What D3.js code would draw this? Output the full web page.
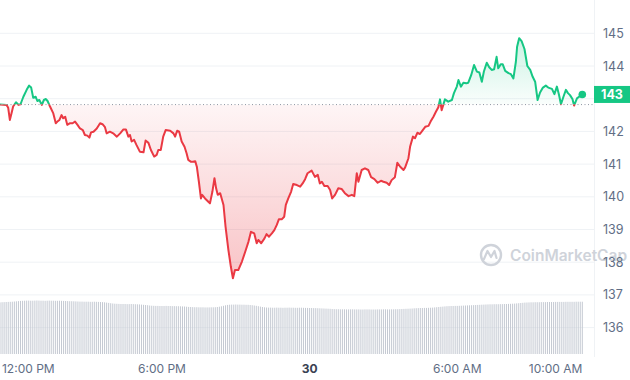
<!DOCTYPE html>
<html><head><meta charset="utf-8">
<script src="https://cdn.jsdelivr.net/npm/d3@7"></script>
<style>body{margin:0;background:#fff}svg{display:block;font-family:Inter,"Noto Sans",sans-serif}</style>
</head><body><svg id="c" width="630" height="380"></svg>
<script>
// ---- data ----
const startClock = [11, 25];           // first sample 11:25 AM on the 29th
const openPrice = 142.82;               // dotted reference line
const lastLabel = "143";
const minutes = [0,16,20,24,29,32,39,45,50,57,65,71,76,81,87,91,96,102,107,112,116,122,130,136,140,145,150,154,159,164,171,177,183,189,195,202,207,213,218,222,228,236,244,250,256,260,268,276,285,293,301,307,313,317,321,327,333,341,350,355,362,368,376,382,386,392,398,404,415,423,427,432,437,443,450,455,459,466,471,476,480,485,490,493,500,508,512,518,523,527,531,537,545,550,557,563,568,573,581,590,598,606,612,620,626,630,637,645,650,656,663,669,675,680,687,693,697,703,710,715,724,732,738,744,750,760,768,775,780,785,791,799,805,810,817,825,833,841,850,858,864,870,874,882,890,898,905,913,921,929,935,943,949,955,963,969,976,984,988,996,1000,1007,1012,1018,1024,1031,1037,1045,1050,1057,1063,1069,1073,1077,1081,1085,1093,1102,1107,1114,1118,1124,1130,1137,1142,1149,1156,1163,1169,1175,1180,1187,1193,1199,1205,1211,1215,1221,1226,1232,1240,1246,1252,1258,1261,1266,1272,1279,1286,1293,1299,1305,1311,1317,1324,1331,1337,1346,1352,1358,1363,1368,1374,1380,1385,1390,1396,1400,1407,1412,1420];
const prices = [142.82,142.81,142.72,142.35,142.60,142.76,142.89,142.81,142.83,143.06,143.27,143.40,143.34,143.03,143.06,142.93,142.96,142.81,142.96,142.99,142.93,142.76,142.55,142.25,142.30,142.35,142.50,142.40,142.45,142.20,142.25,142.25,142.30,142.20,142.09,142.04,141.89,141.87,141.81,141.97,141.99,142.09,142.25,142.22,142.13,141.94,141.99,141.94,141.84,141.94,142.06,142.06,141.84,141.89,141.69,141.74,141.58,141.38,141.36,141.72,141.65,141.43,141.23,141.28,141.43,141.43,141.84,142.04,142.02,141.94,141.84,142.02,141.99,141.69,141.53,141.33,141.13,141.07,141.07,141.09,140.92,140.46,139.95,140.06,139.95,139.85,139.80,140.16,140.57,140.26,140.06,140.11,139.75,139.09,138.37,137.86,137.51,137.76,137.76,138.02,138.32,138.63,138.93,138.88,138.58,138.68,138.58,138.73,138.86,138.78,138.88,138.98,139.14,139.31,139.31,139.39,139.75,139.95,140.16,140.39,140.36,140.31,140.41,140.54,140.72,140.80,140.61,140.67,140.41,140.46,140.33,140.33,140.21,139.95,140.06,140.26,140.24,140.11,140.02,140.06,140.02,140.72,140.46,140.82,140.87,140.82,140.60,140.54,140.43,140.49,140.46,140.43,140.36,140.51,140.60,141.04,140.92,140.82,140.90,141.18,141.53,141.84,141.79,141.96,141.92,142.04,142.14,142.17,142.30,142.45,142.60,142.74,142.98,142.65,142.81,142.98,142.91,142.96,143.17,143.37,143.57,143.37,143.49,143.47,143.49,143.72,144.03,143.83,143.80,143.52,143.83,144.10,143.96,143.88,143.90,144.28,143.93,144.05,144.05,143.85,143.78,143.75,143.62,144.13,144.59,144.85,144.76,144.52,144.00,143.88,143.67,143.52,142.96,143.19,143.34,143.40,143.34,143.30,143.14,143.37,143.13,142.83,143.06,143.27,143.17,143.11,142.99,142.79,143.01,143.06,143.13];
const volume = [
51.6,51.8,51.9,52.0,52.1,52.2,52.3,52.5,52.7,52.9,
53.1,53.2,53.3,53.4,53.4,53.3,53.3,53.4,53.5,53.4,53.3,53.3,53.2,53.3,53.4,53.3,53.3,53.2,53.2,53.3,53.2,53.1,53.0,52.9,52.8,52.8,52.7,52.6,
52.5,52.4,52.4,52.3,52.3,52.3,52.2,52.2,52.3,52.2,52.1,52.0,51.9,51.7,51.4,51.1,50.8,50.5,
50.3,50.2,50.1,50.0,50.0,50.0,49.9,49.9,50.0,49.9,49.8,49.7,49.6,49.4,49.2,
49.0,48.8,48.5,48.3,
48.2,48.1,48.1,48.0,48.0,48.0,48.1,48.0,48.0,47.9,47.9,47.8,47.8,47.7,47.6,47.5,47.3,47.1,
47.0,46.9,46.8,46.8,46.7,46.7,46.7,46.6,46.6,46.6,46.7,46.7,46.8,47.0,47.3,47.7,48.2,48.7,
49.1,49.3,49.4,49.4,49.5,49.4,49.4,49.3,49.3,49.2,49.2,49.0,48.8,48.5,48.2,47.8,47.4,47.0,46.7,
46.5,46.4,46.4,46.3,46.3,46.4,46.3,46.3,46.2,46.3,46.3,46.4,46.3,46.3,46.2,46.2,46.3,46.3,46.2,46.1,46.1,46.0,46.0,45.9,45.9,45.8,45.7,45.6,45.5,45.4,45.3,45.2,45.0,44.9,
44.8,44.8,44.7,44.7,44.7,44.6,44.6,44.7,44.7,44.6,44.6,44.6,44.5,44.5,44.6,44.6,44.6,44.5,44.5,44.5,44.6,44.6,44.6,44.7,44.7,44.6,44.6,44.7,44.7,44.8,44.8,44.9,45.0,45.1,45.2,45.3,45.4,45.5,45.7,
45.8,45.9,46.0,46.0,46.1,46.1,46.2,46.3,46.4,46.6,46.8,47.0,47.2,47.4,
47.6,47.8,47.9,48.0,48.0,48.1,48.1,48.2,48.3,48.4,48.5,48.6,48.7,48.8,48.9,49.0,49.1,49.2,49.3,49.4,
49.5,49.6,49.7,49.7,49.8,49.8,49.8,49.9,49.9,50.0,50.0,50.1,50.2,50.3,50.4,50.6,50.8,51.0,51.2,51.4,
51.5,51.6,51.7,51.7,51.8,51.8,51.8,51.9,51.9,51.9,52.0,52.0,52.0,52.0,52.1,52.1,52.1,52.1,52.1,52.2,52.2,52.2,52.2,52.2,52.3,52.3,52.3,52.3];
const volumeStepMin = 5;
const yTicks = [136,137,138,139,140,141,142,143,144,145];
const xTickMinutes = [35, 395, 755, 1115, 1355];
const xTickLabels = ["12:00 PM","6:00 PM","30","6:00 AM","10:00 AM"];
const xTickBold = [false,false,true,false,false];

// ---- chart ----
const GREEN = "#16c784", RED = "#ea3943";
const svg = d3.select("#c");
const t0 = new Date(2024, 3, 29, startClock[0], startClock[1]);
const tm = m => new Date(t0.getTime() + m * 60000);
const data = minutes.map((m, i) => ({t: tm(m), p: prices[i]}));
const plotRight = 594;

const x = d3.scaleTime().domain([tm(0), tm(minutes[minutes.length-1])]).range([0, 582.3]);
const y = d3.scaleLinear().domain([136, 145]).range([327.6, 33.3]);
const vy = d3.scaleLinear().domain([0, 54]).range([354, 300]);
const y0 = y(openPrice);

const defs = svg.append("defs");
defs.append("clipPath").attr("id","above").append("rect").attr("x",-5).attr("y",0).attr("width",640).attr("height",y0);
defs.append("clipPath").attr("id","below").append("rect").attr("x",-5).attr("y",y0).attr("width",640).attr("height",380-y0);
const gG = defs.append("linearGradient").attr("id","gG").attr("gradientUnits","userSpaceOnUse")
  .attr("x1",0).attr("x2",0).attr("y1",y(d3.max(prices))).attr("y2",y0);
gG.append("stop").attr("offset",0).attr("stop-color",GREEN).attr("stop-opacity",0.22);
gG.append("stop").attr("offset",1).attr("stop-color",GREEN).attr("stop-opacity",0.02);
const gR = defs.append("linearGradient").attr("id","gR").attr("gradientUnits","userSpaceOnUse")
  .attr("x1",0).attr("x2",0).attr("y1",y0).attr("y2",y(d3.min(prices)));
gR.append("stop").attr("offset",0).attr("stop-color",RED).attr("stop-opacity",0.05);
gR.append("stop").attr("offset",1).attr("stop-color",RED).attr("stop-opacity",0.3);

// grid
svg.append("g").selectAll("line").data(yTicks).join("line")
  .attr("x1",0).attr("x2",plotRight).attr("y1",d=>y(d)).attr("y2",d=>y(d))
  .attr("stroke","#eff2f5").attr("stroke-width",1);
svg.append("line").attr("x1",plotRight+0.5).attr("x2",plotRight+0.5).attr("y1",0).attr("y2",357)
  .attr("stroke","#eff2f5");

// volume
svg.append("g").selectAll("rect").data(volume).join("rect")
  .attr("x",(d,i)=>x(tm(i*volumeStepMin))-0.5).attr("width",1)
  .attr("y",d=>vy(d)).attr("height",d=>vy(0)-vy(d))
  .attr("fill","#c4c9d2");

// watermark
const wm = svg.append("g").attr("fill","none").attr("stroke","#cfd3da");
wm.append("circle").attr("cx",491).attr("cy",255).attr("r",10).attr("stroke-width",2.4);
wm.append("path").attr("d","M484,259 L487.5,251 L491,257 L494.5,251 L496.5,258").attr("stroke-width",2.2)
  .attr("stroke-linejoin","round").attr("stroke-linecap","round");
svg.append("text").attr("x",510).attr("y",260.5).attr("font-size",15.5).attr("font-weight",600)
  .attr("fill","#cfd3da").text("CoinMarketCap");

// areas
const area = d3.area().x(d=>x(d.t)).y0(y0).y1(d=>y(d.p));
svg.append("path").datum(data).attr("d",area).attr("fill","url(#gG)").attr("clip-path","url(#above)");
svg.append("path").datum(data).attr("d",area).attr("fill","url(#gR)").attr("clip-path","url(#below)");

// baseline
svg.append("line").attr("x1",0).attr("x2",plotRight).attr("y1",y0).attr("y2",y0)
  .attr("stroke","#8f96a3").attr("stroke-dasharray","1,2.5").attr("stroke-width",1);

// price line
const line = d3.line().x(d=>x(d.t)).y(d=>y(d.p));
svg.append("path").datum(data).attr("d",line).attr("fill","none").attr("stroke",GREEN)
  .attr("stroke-width",2).attr("stroke-linejoin","round").attr("clip-path","url(#above)");
svg.append("path").datum(data).attr("d",line).attr("fill","none").attr("stroke",RED)
  .attr("stroke-width",2).attr("stroke-linejoin","round").attr("clip-path","url(#below)");
const last = data[data.length-1];
svg.append("circle").attr("cx",x(last.t)).attr("cy",y(last.p)).attr("r",3.8).attr("fill",GREEN);

// right axis labels
const yLast = y(last.p);
svg.append("g").selectAll("text").data(yTicks.filter(t=>Math.abs(y(t)-yLast)>10)).join("text")
  .attr("x",603).attr("y",d=>y(d)+4.5).attr("font-size",12.5).attr("fill","#616e85").text(d=>d);
svg.append("rect").attr("x",plotRight).attr("y",yLast-8.5).attr("width",36).attr("height",17).attr("fill",GREEN);
svg.append("text").attr("x",612).attr("y",yLast+4.5).attr("text-anchor","middle").attr("font-size",12.5)
  .attr("font-weight",700).attr("fill","#fff").text(lastLabel);

// x axis labels
const xl = svg.append("g").selectAll("text").data(xTickMinutes).join("text")
  .attr("y",373).attr("font-size",12).attr("text-anchor","middle")
  .attr("font-weight",(d,i)=>xTickBold[i]?700:400)
  .attr("fill",(d,i)=>xTickBold[i]?"#3a4252":"#616e85")
  .text((d,i)=>xTickLabels[i])
  .attr("x",d=>x(tm(d)));
xl.each(function(){ const b=this.getBBox(); if(b.x<2){ d3.select(this).attr("x",+d3.select(this).attr("x")+(2-b.x)); } });
</script></body></html>
